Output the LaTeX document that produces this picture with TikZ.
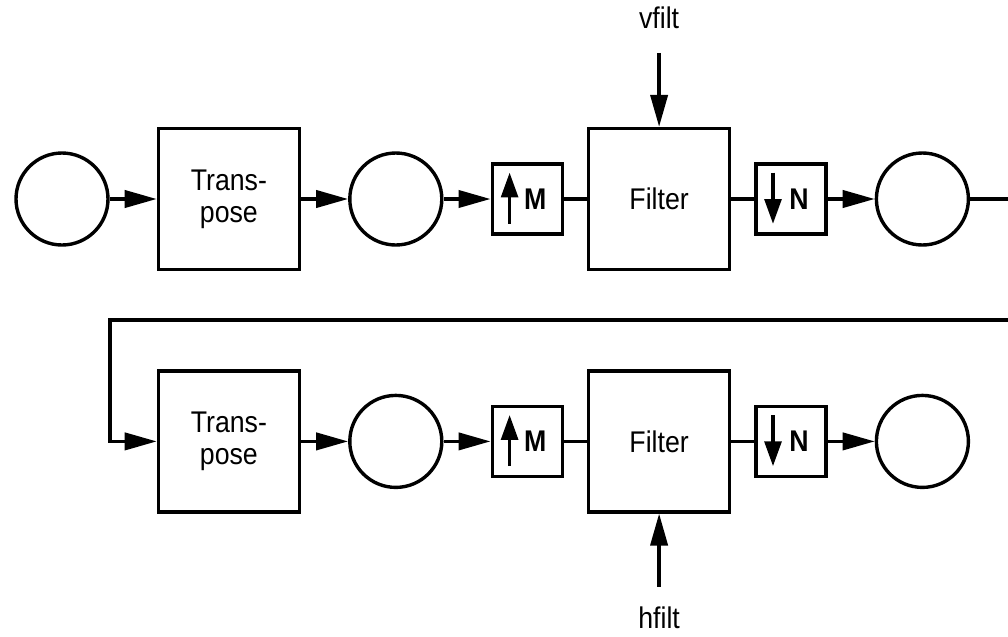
\documentclass[tikz,border=0pt]{standalone}
\usepackage{fontspec}
\usepackage{graphicx}
\setmainfont{Liberation Sans}
\usetikzlibrary{calc,positioning,arrows.meta}
\newcommand{\tall}[1]{\scalebox{1}[1.12]{#1}}

\begin{document}
\begin{tikzpicture}[>={Triangle[length=0.8cm,width=0.43cm]}, node distance=1.175cm,
  line width=0.085cm, font=\fontsize{19}{23}\selectfont,
  circ/.style={draw, circle, minimum size=2.3cm, inner sep=0},
  blk/.style={draw, minimum size=3.525cm, align=center, inner sep=0},
  rate/.style={draw, minimum size=1.75cm, inner sep=0, font=\fontsize{19}{23}\selectfont\bfseries},
  tip/.style={-{Triangle[length=0.62cm,width=0.42cm]}},
  lbl/.style={inner sep=0, outer sep=0}]
\useasboundingbox (0,0) rectangle (25.2,-15.9);
% upper row
\node[circ] (src) at (1.55,-4.975) {};
\node[blk, right=of src] (tp1) {\tall{Trans-}\\\tall{pose}};
\node[circ, right=of tp1] (mid1) {};
\node[rate, right=of mid1] (up1) {\hspace{0.4cm}\tall{M}};
\node[blk, right=0.575cm of up1] (flt1) {\tall{Filter}};
\node[rate, right=0.575cm of flt1] (dn1) {\hspace{0.4cm}\tall{N}};
\node[circ, right=of dn1] (out1) {};
% lower row
\node[blk, below=2.45cm of tp1] (tp2) {\tall{Trans-}\\\tall{pose}};
\node[circ, right=of tp2] (mid2) {};
\node[rate, right=of mid2] (up2) {\hspace{0.4cm}\tall{M}};
\node[blk, right=0.575cm of up2] (flt2) {\tall{Filter}};
\node[rate, right=0.575cm of flt2] (dn2) {\hspace{0.4cm}\tall{N}};
\node[circ, right=of dn2] (out2) {};
% filter inputs
\coordinate[above=1.85cm of flt1] (vin);
\node[lbl, above=0.6cm of vin] (vfilt) {\tall{vfilt}};
\coordinate[below=1.825cm of flt2] (hin);
\node[lbl, below=0.5cm of hin] (hfilt) {\tall{hfilt}};
% feedback line
\coordinate (fbR) at (25.3,-8.0);
\coordinate (fbL) at (2.75,-8.0);
% rate marks
\foreach \u in {up1,up2}
  \draw[tip] ($(\u.center)+(-0.44,-0.62)$) -- ($(\u.center)+(-0.44,0.66)$);
\foreach \d in {dn1,dn2}
  \draw[tip] ($(\d.center)+(-0.45,0.66)$) -- ($(\d.center)+(-0.45,-0.62)$);
% connectors
\draw[->] (src) -- (tp1);
\draw[->] (tp1) -- (mid1);
\draw[->] (mid1) -- (up1);
\draw (up1) -- (flt1);
\draw (flt1) -- (dn1);
\draw[->] (dn1) -- (out1);
\draw (out1) -- (out1 -| fbR);
\draw[->] (fbR) -- (fbL) |- (tp2);
\draw[->] (tp2) -- (mid2);
\draw[->] (mid2) -- (up2);
\draw (up2) -- (flt2);
\draw (flt2) -- (dn2);
\draw[->] (dn2) -- (out2);
\draw[->] (vin) -- (flt1);
\draw[->] (hin) -- (flt2);
\end{tikzpicture}
\end{document}
